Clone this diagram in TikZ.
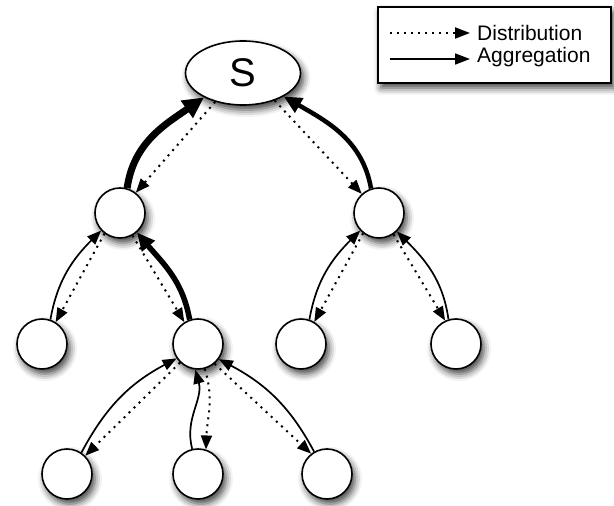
\documentclass[tikz,border=0pt]{standalone}
\usepackage{fontspec}
\setmainfont{Liberation Sans}
\usetikzlibrary{shapes.geometric,arrows.meta,shadows.blur}

\begin{document}
\begin{tikzpicture}[x=1pt,y=1pt,
  soft/.style={blur shadow={shadow xshift=3pt, shadow yshift=-5pt, shadow blur radius=7pt, shadow opacity=75}},
  peer/.style={draw, circle, line width=1.6pt, fill=white, minimum size=50pt, inner sep=0pt, soft},
  root/.style={draw, ellipse, line width=1.6pt, fill=white, minimum width=115pt, minimum height=64pt, inner sep=0pt, font=\fontsize{40}{48}\selectfont, soft},
  dist/.style={draw, line width=2pt, dash pattern=on 2pt off 5pt, -{Triangle[length=14pt,width=11pt]}},
  agg/.style={draw, line width=1.7pt, -{Triangle[length=14pt,width=11pt]}},
  aggheavy/.style={draw, line width=4pt, -{Triangle[length=18pt,width=16pt]}},
  legtext/.style={anchor=base west, inner sep=0pt, font=\fontsize{21}{25}\selectfont}]
\useasboundingbox (0,0) rectangle (614,506);

% tree
\node[root] (S) at (243,433) {S};
\node[peer] (L1) at (120,293) {};
\node[peer] (R1) at (379,293) {};
\node[peer] (LL) at (42,162) {};
\node[peer] (LM) at (198,162) {};
\node[peer] (RL) at (301,162) {};
\node[peer] (RR) at (456,162) {};
\node[peer] (B1) at (67,32) {};
\node[peer] (B2) at (198,32) {};
\node[peer] (B3) at (327,32) {};

% distribution
\path[dist] (S.-134) -- (L1.52);
\path[dist] (S.-41) -- (R1.132);
\path[dist] (L1.-127) -- (LL.58);
\path[dist] (L1.-61) -- (LM.122);
\path[dist] (R1.-128) -- (RL.59);
\path[dist] (R1.-56) -- (RR.115);
\path[dist] (LM.-134) -- (B1.45);
\path[dist] (LM.-75) to[out=-72,in=88] (B2.72);
\path[dist] (LM.-50) -- (B3.128);

% aggregation
\path[aggheavy, line width=7pt, -{Triangle[length=21pt,width=20pt]}] (L1.74) to[out=82,in=215] (S.-148);
\path[aggheavy, line width=4.5pt] (R1.108) to[out=100,in=-30] (S.-30);
\path[agg] (LL.71) to[out=80,in=225] (L1.-137);
\path[aggheavy, line width=5.5pt] (LM.109) to[out=100,in=-50] (L1.-49);
\path[agg] (RL.71) to[out=80,in=225] (R1.-137);
\path[agg] (RR.107) to[out=98,in=-45] (R1.-46);
\path[agg] (B1.56) to[out=62,in=208] (LM.-146);
\path[agg] (B2.103) to[out=105,in=-75] (LM.-96);
\path[agg] (B3.120) to[out=118,in=-28] (LM.-36);

% legend
\node[draw, line width=1.6pt, fill=white, minimum width=233pt, minimum height=76pt, soft] (legend) at (494.5,461) {};
\coordinate (d1) at (390,473);
\coordinate (d2) at (470,473);
\coordinate (a1) at (390,447);
\coordinate (a2) at (470,447);
\path[dist, -{Triangle[length=15pt,width=11pt]}] (d1) -- (d2);
\path[agg, -{Triangle[length=15pt,width=11pt]}] (a1) -- (a2);
\node[legtext] (distlabel) at (477,465) {Distribution};
\node[legtext] (agglabel) at (477,443) {Aggregation};
\end{tikzpicture}
\end{document}
